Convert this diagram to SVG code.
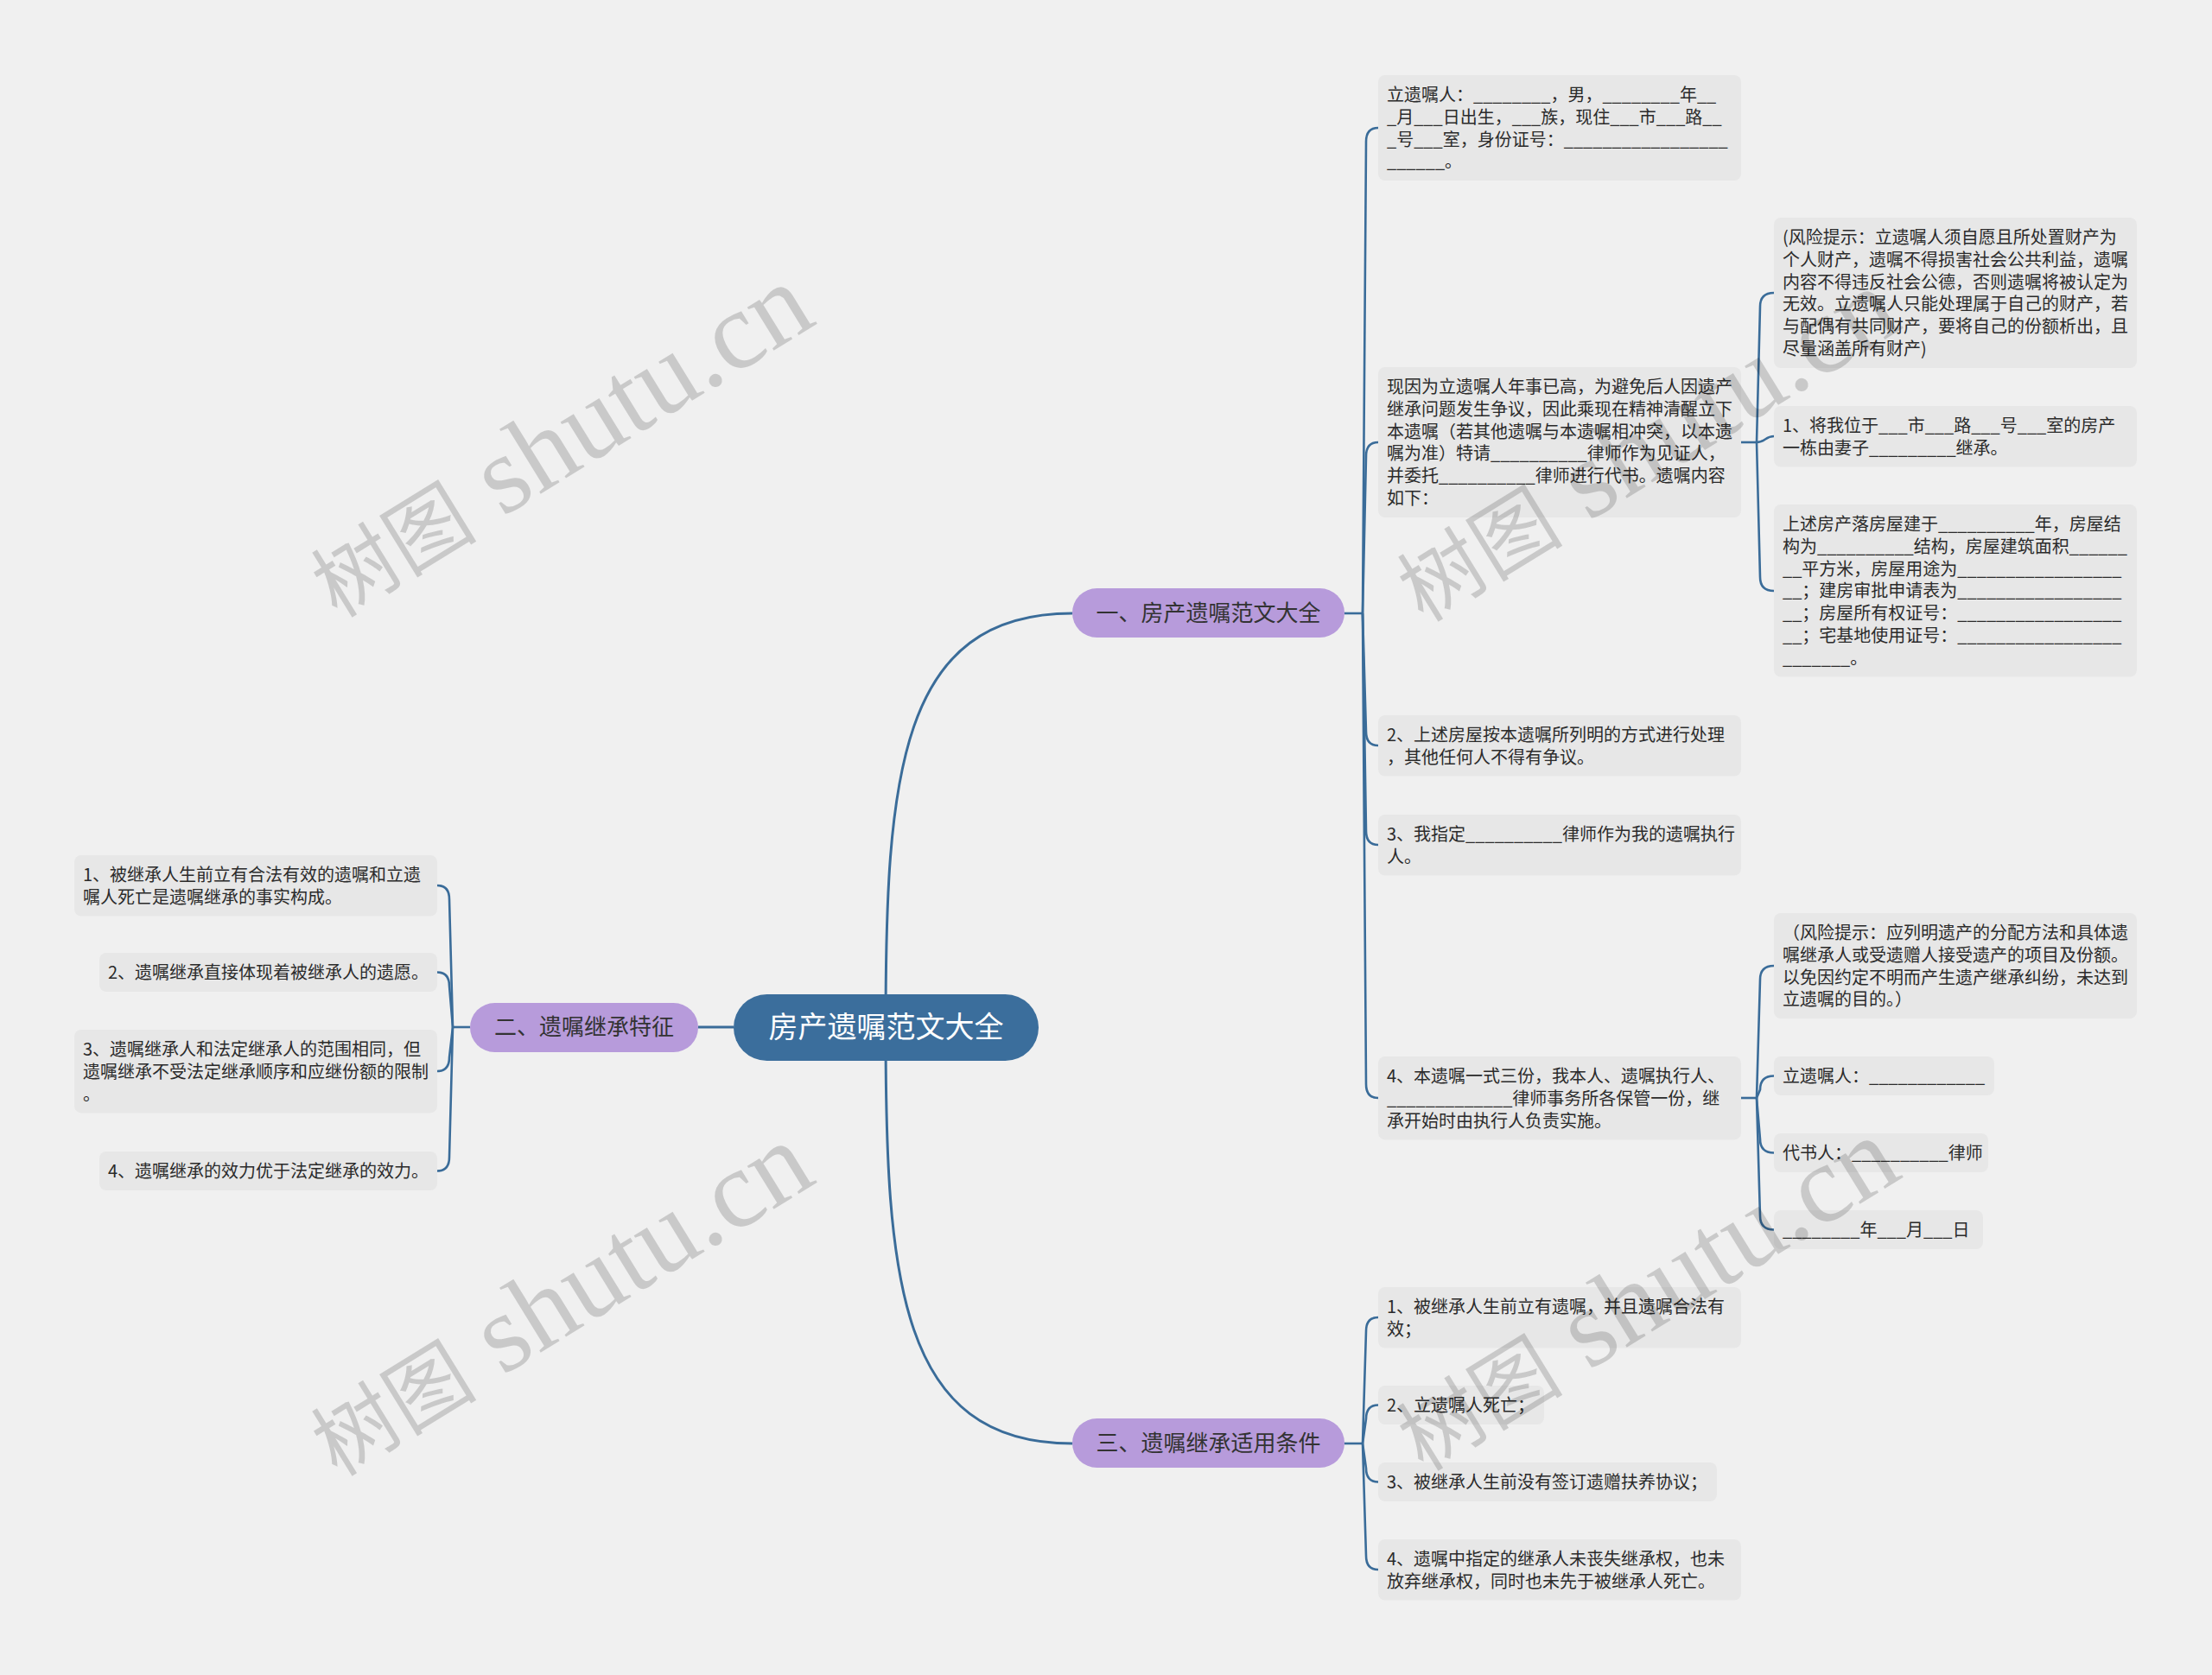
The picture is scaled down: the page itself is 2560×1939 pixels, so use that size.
<svg xmlns="http://www.w3.org/2000/svg" width="2560" height="1939" viewBox="0 0 2560 1939">
<style>
.bg{fill:#f0f0f0}
.box{fill:#e7e7e7}
.t{font-family:"Noto Sans CJK SC","Microsoft YaHei",sans-serif;font-size:20px;fill:#2b2b2b}
.ln{fill:none;stroke:#3a6c99;stroke-width:2.6}
.mln{fill:none;stroke:#3a6c99;stroke-width:3}
.br{fill:#b79bdb}
.bt{font-family:"Noto Sans CJK SC","Microsoft YaHei",sans-serif;font-size:26px;fill:#333;text-anchor:middle}
.root{fill:#3b6e9c}
.rt{font-family:"Noto Sans CJK SC","Microsoft YaHei",sans-serif;font-size:34px;fill:#fff;text-anchor:middle}
.wm{font-family:"Liberation Serif","Noto Sans CJK SC",serif;font-size:128px;fill:#000;fill-opacity:0.16;text-anchor:middle}
.wc{font-size:96px}
</style>
<rect class="bg" x="0" y="0" width="2560" height="1939"/>
<g id="connectors">
<path class="mln" d="M1025 1189 C1025 900 1040 710 1241 710"/>
<path class="mln" d="M1025 1189 C1025 1480 1040 1671 1241 1671"/>
<path class="mln" d="M849 1189 H808"/>
<path class="ln" d="M1556 710 H1577"/>
<path class="ln" d="M1577 710 L1581 164 Q1581 148 1595 148"/>
<path class="ln" d="M1577 710 L1581 528 Q1581 512 1595 512"/>
<path class="ln" d="M1577 710 L1581 847 Q1581 863 1595 863"/>
<path class="ln" d="M1577 710 L1581 962 Q1581 978 1595 978"/>
<path class="ln" d="M1577 710 L1581 1255 Q1581 1271 1595 1271"/>
<path class="ln" d="M2015 512 H2033"/>
<path class="ln" d="M2033 512 L2037 355 Q2037 339 2053 339"/>
<path class="ln" d="M2033 512 C2043 512 2043 505 2053 505"/>
<path class="ln" d="M2033 512 L2037 668 Q2037 684 2053 684"/>
<path class="ln" d="M2015 1271 H2033"/>
<path class="ln" d="M2033 1271 L2037 1134 Q2037 1118 2053 1118"/>
<path class="ln" d="M2033 1271 L2037 1261.5 Q2037 1245.5 2053 1245.5"/>
<path class="ln" d="M2033 1271 L2037 1318.5 Q2037 1334.5 2053 1334.5"/>
<path class="ln" d="M2033 1271 L2037 1407.5 Q2037 1423.5 2053 1423.5"/>
<path class="ln" d="M1556 1671 H1577"/>
<path class="ln" d="M1577 1671 L1581 1541 Q1581 1525 1595 1525"/>
<path class="ln" d="M1577 1671 L1581 1642.5 Q1581 1626.5 1595 1626.5"/>
<path class="ln" d="M1577 1671 L1581 1699.5 Q1581 1715.5 1595 1715.5"/>
<path class="ln" d="M1577 1671 L1581 1801 Q1581 1817 1595 1817"/>
<path class="ln" d="M544 1189 H524"/>
<path class="ln" d="M524 1189 L520 1041 Q520 1025 506 1025"/>
<path class="ln" d="M524 1189 L520 1141.5 Q520 1125.5 506 1125.5"/>
<path class="ln" d="M524 1189 L520 1224 Q520 1240 506 1240"/>
<path class="ln" d="M524 1189 L520 1339.5 Q520 1355.5 506 1355.5"/>
</g>
<g id="root">
<rect class="root" x="849" y="1151" width="353" height="77" rx="38.5"/>
<text class="rt" x="1025.5" y="1201">房产遗嘱范文大全</text>
</g>
<g id="b1">
<rect class="br" x="1241" y="681" width="315" height="57" rx="28.5"/>
<text class="bt" x="1398.5" y="719">一、房产遗嘱范文大全</text>
</g>
<g id="b2">
<rect class="br" x="544" y="1161" width="264" height="57" rx="28.5"/>
<text class="bt" x="676" y="1198">二、遗嘱继承特征</text>
</g>
<g id="b3">
<rect class="br" x="1241" y="1642" width="315" height="57" rx="28.5"/>
<text class="bt" x="1398.5" y="1680">三、遗嘱继承适用条件</text>
</g>
<g id="c1">
<rect class="box" x="1595" y="87" width="420" height="122" rx="8"/>
<text class="t"><tspan x="1605" y="117">立遗嘱人：________，男，________年__</tspan><tspan x="1605" y="142.8">_月___日出生，___族，现住___市___路__</tspan><tspan x="1605" y="168.6">_号___室，身份证号：_________________</tspan><tspan x="1605" y="194.4">______。</tspan></text>
</g>
<g id="c2">
<rect class="box" x="1595" y="425" width="420" height="174" rx="8"/>
<text class="t"><tspan x="1605" y="455">现因为立遗嘱人年事已高，为避免后人因遗产</tspan><tspan x="1605" y="480.8">继承问题发生争议，因此乘现在精神清醒立下</tspan><tspan x="1605" y="506.6">本遗嘱（若其他遗嘱与本遗嘱相冲突，以本遗</tspan><tspan x="1605" y="532.4">嘱为准）特请__________律师作为见证人，</tspan><tspan x="1605" y="558.2">并委托__________律师进行代书。遗嘱内容</tspan><tspan x="1605" y="584">如下：</tspan></text>
</g>
<g id="c2a">
<rect class="box" x="2053" y="252" width="420" height="174" rx="8"/>
<text class="t"><tspan x="2063" y="282">(风险提示：立遗嘱人须自愿且所处置财产为</tspan><tspan x="2063" y="307.8">个人财产，遗嘱不得损害社会公共利益，遗嘱</tspan><tspan x="2063" y="333.6">内容不得违反社会公德，否则遗嘱将被认定为</tspan><tspan x="2063" y="359.4">无效。立遗嘱人只能处理属于自己的财产，若</tspan><tspan x="2063" y="385.2">与配偶有共同财产，要将自己的份额析出，且</tspan><tspan x="2063" y="411">尽量涵盖所有财产)</tspan></text>
</g>
<g id="c2b">
<rect class="box" x="2053" y="470" width="420" height="70.6" rx="8"/>
<text class="t"><tspan x="2063" y="500">1、将我位于___市___路___号___室的房产</tspan><tspan x="2063" y="525.8">一栋由妻子_________继承。</tspan></text>
</g>
<g id="c2c">
<rect class="box" x="2053" y="584" width="420" height="199.6" rx="8"/>
<text class="t"><tspan x="2063" y="614">上述房产落房屋建于__________年，房屋结</tspan><tspan x="2063" y="639.8">构为__________结构，房屋建筑面积______</tspan><tspan x="2063" y="665.6">__平方米，房屋用途为_________________</tspan><tspan x="2063" y="691.4">__；建房审批申请表为_________________</tspan><tspan x="2063" y="717.2">__；房屋所有权证号：_________________</tspan><tspan x="2063" y="743">__；宅基地使用证号：_________________</tspan><tspan x="2063" y="768.8">_______。</tspan></text>
</g>
<g id="c3">
<rect class="box" x="1595" y="828" width="420" height="70.6" rx="8"/>
<text class="t"><tspan x="1605" y="858">2、上述房屋按本遗嘱所列明的方式进行处理</tspan><tspan x="1605" y="883.8">，其他任何人不得有争议。</tspan></text>
</g>
<g id="c4">
<rect class="box" x="1595" y="943" width="420" height="70.6" rx="8"/>
<text class="t"><tspan x="1605" y="973">3、我指定__________律师作为我的遗嘱执行</tspan><tspan x="1605" y="998.8">人。</tspan></text>
</g>
<g id="c5">
<rect class="box" x="1595" y="1223" width="420" height="96.4" rx="8"/>
<text class="t"><tspan x="1605" y="1253">4、本遗嘱一式三份，我本人、遗嘱执行人、</tspan><tspan x="1605" y="1278.8">_____________律师事务所各保管一份，继</tspan><tspan x="1605" y="1304.6">承开始时由执行人负责实施。</tspan></text>
</g>
<g id="c5a">
<rect class="box" x="2053" y="1057" width="420" height="122.2" rx="8"/>
<text class="t"><tspan x="2063" y="1087">（风险提示：应列明遗产的分配方法和具体遗</tspan><tspan x="2063" y="1112.8">嘱继承人或受遗赠人接受遗产的项目及份额。</tspan><tspan x="2063" y="1138.6">以免因约定不明而产生遗产继承纠纷，未达到</tspan><tspan x="2063" y="1164.4">立遗嘱的目的。）</tspan></text>
</g>
<g id="c5b">
<rect class="box" x="2053" y="1223" width="255" height="45" rx="8"/>
<text class="t" x="2063" y="1253">立遗嘱人：____________</text>
</g>
<g id="c5c">
<rect class="box" x="2053" y="1312" width="248" height="45" rx="8"/>
<text class="t" x="2063" y="1342">代书人：__________律师</text>
</g>
<g id="c5d">
<rect class="box" x="2053" y="1401" width="242" height="45" rx="8"/>
<text class="t" x="2063" y="1431">________年___月___日</text>
</g>
<g id="d1">
<rect class="box" x="1595" y="1490" width="420" height="70.6" rx="8"/>
<text class="t"><tspan x="1605" y="1520">1、被继承人生前立有遗嘱，并且遗嘱合法有</tspan><tspan x="1605" y="1545.8">效；</tspan></text>
</g>
<g id="d2">
<rect class="box" x="1595" y="1604" width="192" height="45" rx="8"/>
<text class="t" x="1605" y="1634">2、立遗嘱人死亡；</text>
</g>
<g id="d3">
<rect class="box" x="1595" y="1693" width="392" height="45" rx="8"/>
<text class="t" x="1605" y="1723">3、被继承人生前没有签订遗赠扶养协议；</text>
</g>
<g id="d4">
<rect class="box" x="1595" y="1782" width="420" height="70.6" rx="8"/>
<text class="t"><tspan x="1605" y="1812">4、遗嘱中指定的继承人未丧失继承权，也未</tspan><tspan x="1605" y="1837.8">放弃继承权，同时也未先于被继承人死亡。</tspan></text>
</g>
<g id="e1">
<rect class="box" x="86" y="990" width="420" height="70.6" rx="8"/>
<text class="t"><tspan x="96" y="1020">1、被继承人生前立有合法有效的遗嘱和立遗</tspan><tspan x="96" y="1045.8">嘱人死亡是遗嘱继承的事实构成。</tspan></text>
</g>
<g id="e2">
<rect class="box" x="115" y="1103" width="391" height="45" rx="8"/>
<text class="t" x="125" y="1133">2、遗嘱继承直接体现着被继承人的遗愿。</text>
</g>
<g id="e3">
<rect class="box" x="86" y="1192" width="420" height="96.4" rx="8"/>
<text class="t"><tspan x="96" y="1222">3、遗嘱继承人和法定继承人的范围相同，但</tspan><tspan x="96" y="1247.8">遗嘱继承不受法定继承顺序和应继份额的限制</tspan><tspan x="96" y="1273.6">。</tspan></text>
</g>
<g id="e4">
<rect class="box" x="115" y="1333" width="391" height="45" rx="8"/>
<text class="t" x="125" y="1363">4、遗嘱继承的效力优于法定继承的效力。</text>
</g>
<g id="watermarks">
<text class="wm" transform="translate(648 511) rotate(-31.6)" x="0" y="40"><tspan class="wc">树图</tspan> shutu.cn</text>
<text class="wm" transform="translate(648 1505) rotate(-31.6)" x="0" y="40"><tspan class="wc">树图</tspan> shutu.cn</text>
<text class="wm" transform="translate(1905 516) rotate(-31.6)" x="0" y="40"><tspan class="wc">树图</tspan> shutu.cn</text>
<text class="wm" transform="translate(1905 1499) rotate(-31.6)" x="0" y="40"><tspan class="wc">树图</tspan> shutu.cn</text>
</g>
</svg>
